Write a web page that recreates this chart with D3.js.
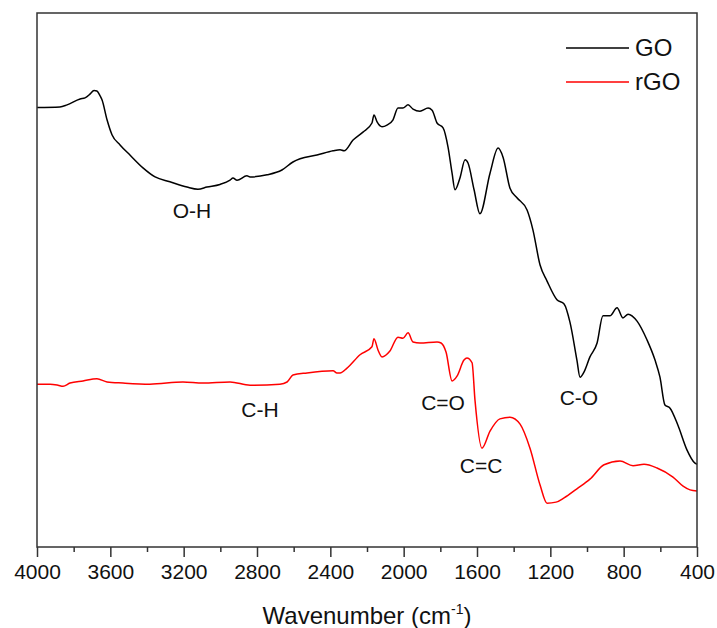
<!DOCTYPE html>
<html>
<head>
<meta charset="utf-8">
<script src="https://cdn.jsdelivr.net/npm/d3@7"></script>
<style>
  body { margin: 0; background: #fff; }
  svg text { font-family: "Liberation Sans", Arial, sans-serif; fill: #111; }
</style>
</head>
<body>
<svg id="chart" width="717" height="628"></svg>
<script>
// wavenumber (cm-1) and transmittance (a.u.)
var go_wn = [4000,3875,3836,3765,3738,3711,3689,3673,3656,3645,3618,3591,3547,3493,3422,3356,3275,3182,3122,3073,3002,2947,2931,2909,2855,2838,2745,2664,2604,2565,2473,2385,2347,2325,2276,2222,2173,2162,2145,2118,2091,2058,2031,2004,1976,1949,1911,1867,1845,1818,1785,1758,1736,1720,1693,1665,1649,1616,1584,1529,1485,1458,1420,1382,1327,1295,1256,1218,1164,1125,1093,1055,1038,1016,984,945,913,875,836,804,776,727,673,629,602,575,547,504,455,411,400]
var go_val = [82.3,82.4,82.8,83.9,84.1,84.8,85.5,85.4,84.5,83.7,80.0,77.2,75.3,73.4,71.0,69.3,68.4,67.4,67.0,67.4,67.9,68.7,69.1,68.7,69.5,69.3,69.7,70.6,72.1,72.7,73.4,74.2,74.4,74.2,76.2,77.7,79.4,80.9,79.6,78.7,79.0,80.0,82.2,82.2,82.8,82.0,81.6,82.2,81.8,79.4,78.5,74.9,70.0,66.9,69.1,72.5,71.9,66.9,62.4,70.0,74.7,73.0,67.2,65.4,63.1,59.4,52.8,49.8,46.3,45.5,42.1,35.0,31.8,32.8,35.6,38.2,43.3,43.3,44.8,42.9,43.6,42.3,38.8,35.0,31.8,26.6,26.0,22.8,18.2,15.7,15.5]

var rgo_wn = [4000,3929,3885,3858,3820,3749,3673,3618,3531,3384,3204,3095,2947,2838,2675,2636,2604,2527,2385,2364,2347,2309,2238,2173,2162,2140,2118,2075,2031,2004,1976,1949,1911,1818,1796,1769,1736,1709,1671,1655,1627,1611,1573,1529,1475,1420,1365,1311,1256,1218,1169,1125,1055,984,907,820,749,689,618,531,476,438,400]
var rgo_val = [30.5,30.5,30.3,30.1,30.7,31.1,31.5,30.9,30.7,30.5,30.9,30.7,30.9,30.3,30.5,30.9,32.2,32.6,33.0,32.6,32.6,33.5,36.0,37.5,39.0,36.9,35.6,36.7,39.3,39.1,40.1,38.4,38.2,38.4,38.2,36.5,31.1,32.0,35.0,35.4,34.5,27.5,18.5,21.7,24.0,24.3,23.0,18.5,11.6,8.2,8.4,9.2,10.9,12.7,15.4,16.1,15.2,15.5,14.8,13.1,11.4,10.7,10.5]

var major_ticks = [4000,3600,3200,2800,2400,2000,1600,1200,800,400]
var minor_ticks = [3800,3400,3000,2600,2200,1800,1400,1000,600]

var series_names = ["GO", "rGO"]
var series_colors = ["#000000", "#ff0000"]

// band labels: [text, wavenumber, value]
var band_labels = [["O-H",3155,61.6],["C-H",2784,24.3],["C=O",1785,25.7],["C=C",1578,13.9],["C-O",1044,26.6]]

var svg = d3.select("#chart")
var margin = { left: 37, right: 20, top: 13, bottom: 81 }
var W = 717, H = 628
var xScale = d3.scaleLinear().domain([4000, 400]).range([margin.left, W - margin.right])
var yScale = d3.scaleLinear().domain([0, 100]).range([H - margin.bottom, margin.top])

var line = d3.line().curve(d3.curveMonotoneX).x(d => xScale(d[0])).y(d => yScale(d[1]))

var go_data = go_wn.map((w, i) => [w, go_val[i]])
var rgo_data = rgo_wn.map((w, i) => [w, rgo_val[i]])

svg.append("path").datum(go_data).attr("d", line).attr("fill", "none")
    .attr("stroke", series_colors[0]).attr("stroke-width", 1.5).attr("stroke-linejoin", "round")
svg.append("path").datum(rgo_data).attr("d", line).attr("fill", "none")
    .attr("stroke", series_colors[1]).attr("stroke-width", 1.5).attr("stroke-linejoin", "round")

// frame
svg.append("rect").attr("x", margin.left).attr("y", margin.top)
    .attr("width", W - margin.left - margin.right).attr("height", H - margin.top - margin.bottom)
    .attr("fill", "none").attr("stroke", "#333").attr("stroke-width", 1.5)

// x axis
var axisG = svg.append("g").attr("transform", "translate(0," + (H - margin.bottom) + ")")
axisG.call(d3.axisBottom(xScale).tickValues(major_ticks).tickSize(10).tickPadding(7).tickFormat(d3.format("d")))
var minorG = svg.append("g").attr("transform", "translate(0," + (H - margin.bottom) + ")")
minorG.call(d3.axisBottom(xScale).tickValues(minor_ticks).tickSize(5).tickFormat(""))
svg.selectAll(".domain").remove()
svg.selectAll(".tick line").attr("stroke", "#333").attr("stroke-width", 1.5)
axisG.selectAll(".tick text").attr("font-size", 21).attr("fill", "#111")
    .style("font-family", "'Liberation Sans', Arial, sans-serif")

// axis title
var title = svg.append("text").attr("x", 367).attr("y", 624).attr("text-anchor", "middle").attr("font-size", 24)
title.append("tspan").text("Wavenumber (cm")
title.append("tspan").attr("font-size", 14).attr("dy", -10).text("-1")
title.append("tspan").attr("dy", 10).text(")")

// band labels
svg.selectAll(".band").data(band_labels).join("text").attr("class", "band")
    .attr("x", d => xScale(d[1])).attr("y", d => yScale(d[2]))
    .attr("text-anchor", "middle").attr("font-size", 21).text(d => d[0])

// legend
var legend = svg.append("g")
series_names.forEach((name, i) => {
    var y = 48 + i * 34
    legend.append("line").attr("x1", 566).attr("x2", 629).attr("y1", y).attr("y2", y)
        .attr("stroke", series_colors[i]).attr("stroke-width", 1.5)
    legend.append("text").attr("x", 635).attr("y", y).attr("dy", "0.35em").attr("font-size", 24).text(name)
})
</script>
</body>
</html>
